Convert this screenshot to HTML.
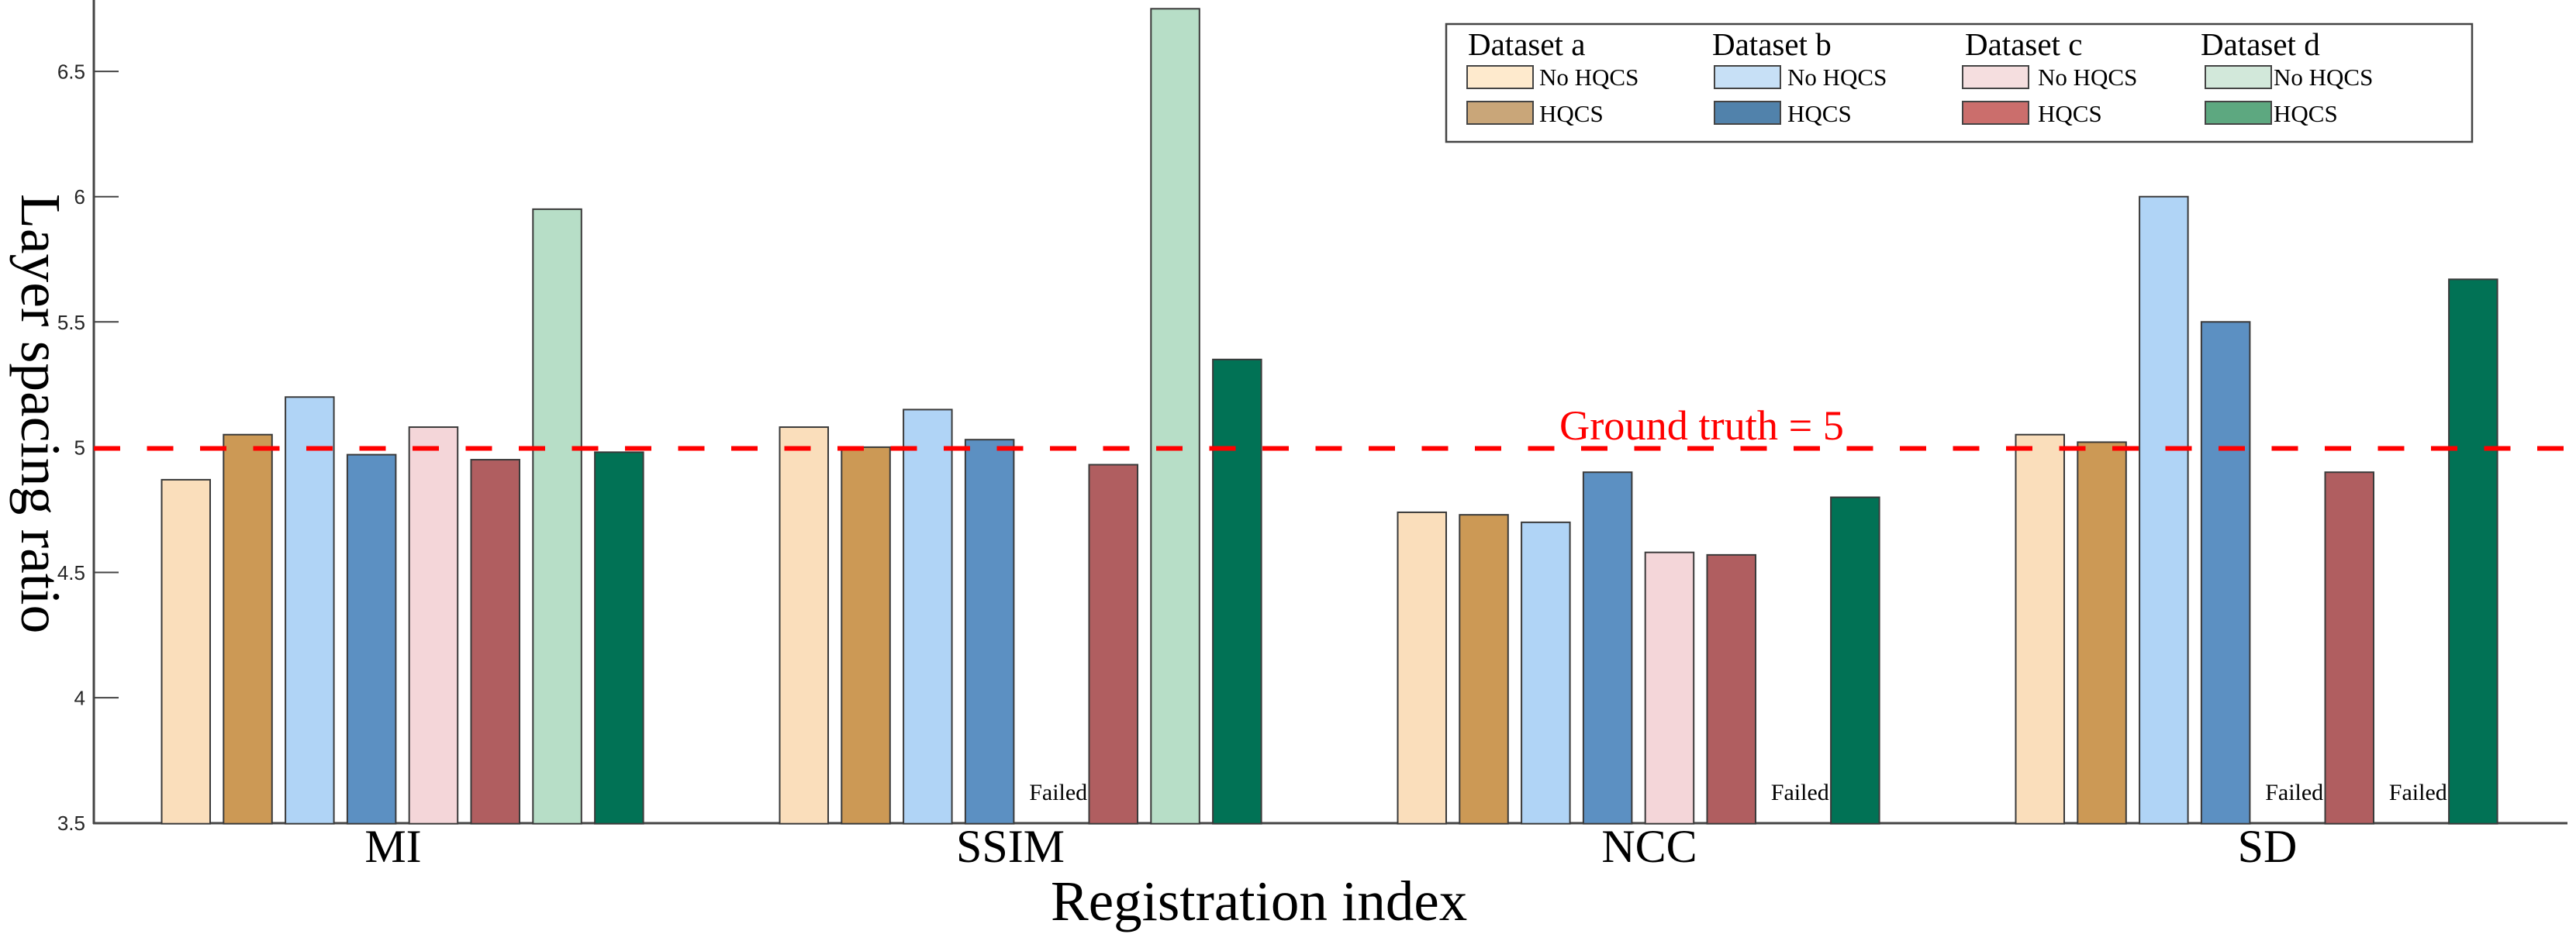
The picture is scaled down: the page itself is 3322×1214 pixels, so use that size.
<!DOCTYPE html>
<html lang="en">
<head>
<meta charset="utf-8">
<title>Layer spacing ratio by registration index</title>
<style>
html,body{margin:0;padding:0;background:#fff;}
svg{display:block;}
text{font-family:"Liberation Serif",serif;}
.tick-label{font-family:"Liberation Sans",sans-serif;font-size:26px;fill:#262626;text-anchor:end;}
</style>
</head>
<body>
<svg id="chart" xmlns="http://www.w3.org/2000/svg" width="3322" height="1214" viewBox="0 0 3322 1214">
  <rect x="0" y="0" width="3322" height="1214" fill="#ffffff"/>
  <g id="y-ticks"></g>
  <g id="bars"></g>
  <g id="failed"></g>
  <line x1="121" y1="0" x2="121" y2="1063" stroke="#444444" stroke-width="3"/>
  <line x1="120" y1="1062" x2="3311" y2="1062" stroke="#444444" stroke-width="3"/>
  <g id="bars-front"></g>
  <line id="truth-line" x1="121" x2="3311" stroke="#ff0000" stroke-width="6" stroke-dasharray="34 34.5"/>
  <text x="2011" y="567" font-size="54.3" fill="#ff0000">Ground truth = 5</text>
  <g id="x-labels"></g>
  <text x="1355" y="1187" font-size="73" fill="#000">Registration index</text>
  <text transform="translate(28 250) rotate(90)" font-size="73.5" fill="#000">Layer spacing ratio</text>
  <g>
    <rect x="1865" y="31" width="1323" height="152" fill="#ffffff" stroke="#444444" stroke-width="2.5"/>
    <text x="1893" y="71" font-size="41">Dataset a</text>
    <text x="2208" y="71" font-size="41">Dataset b</text>
    <text x="2534" y="71" font-size="41">Dataset c</text>
    <text x="2838" y="71" font-size="41">Dataset d</text>
    <rect x="1892" y="85" width="85" height="29" fill="#FEEACD" stroke="#444" stroke-width="2"/>
    <rect x="1892" y="131" width="85" height="29" fill="#C9A679" stroke="#444" stroke-width="2"/>
    <rect x="2211" y="85" width="85" height="29" fill="#C7E0F6" stroke="#444" stroke-width="2"/>
    <rect x="2211" y="131" width="85" height="29" fill="#5182AB" stroke="#444" stroke-width="2"/>
    <rect x="2531" y="85" width="85" height="29" fill="#F5DEDF" stroke="#444" stroke-width="2"/>
    <rect x="2531" y="131" width="85" height="29" fill="#CB6E6C" stroke="#444" stroke-width="2"/>
    <rect x="2844" y="85" width="85" height="29" fill="#D2E8DA" stroke="#444" stroke-width="2"/>
    <rect x="2844" y="131" width="85" height="29" fill="#5DA880" stroke="#444" stroke-width="2"/>
    <text x="1985" y="110" font-size="31">No HQCS</text>
    <text x="1985" y="157" font-size="31">HQCS</text>
    <text x="2305" y="110" font-size="31">No HQCS</text>
    <text x="2305" y="157" font-size="31">HQCS</text>
    <text x="2628" y="110" font-size="31">No HQCS</text>
    <text x="2628" y="157" font-size="31">HQCS</text>
    <text x="2932" y="110" font-size="31">No HQCS</text>
    <text x="2932" y="157" font-size="31">HQCS</text>
  </g>
</svg>
<script>
const categories = ["MI", "SSIM", "NCC", "SD"];
const seriesNames = ["a-no-hqcs", "a-hqcs", "b-no-hqcs", "b-hqcs", "c-no-hqcs", "c-hqcs", "d-no-hqcs", "d-hqcs"];
const seriesColors = ["#FADEBB", "#CC9955", "#B0D4F6", "#5C90C2", "#F4D6D9", "#B05E60", "#B7DEC7", "#017255"];
const miValues = [4.87, 5.05, 5.2, 4.97, 5.08, 4.95, 5.95, 4.98];
const ssimValues = [5.08, 5.0, 5.15, 5.03, null, 4.93, 6.75, 5.35];
const nccValues = [4.74, 4.73, 4.7, 4.9, 4.58, 4.57, null, 4.8];
const sdValues = [5.05, 5.02, 6.0, 5.5, null, 4.9, null, 5.67];
const groupValues = [miValues, ssimValues, nccValues, sdValues];
const tickValues = [3.5, 4, 4.5, 5, 5.5, 6, 6.5];
const tickLabels = ["3.5", "4", "4.5", "5", "5.5", "6", "6.5"];
const groundTruth = 4.995;

const NS = "http://www.w3.org/2000/svg";
const BASE_VALUE = 3.5;
function yScale(v) { return 1061.7 - (v - BASE_VALUE) * 323.2; }
function barLeft(g, s) { return 208 + g * 797 + s * 79.8; }
const BAR_WIDTH = 63.5;

const tickLayer = document.getElementById("y-ticks");
tickValues.forEach(function (v, i) {
  const y = yScale(v);
  const line = document.createElementNS(NS, "line");
  
  
  line.setAttribute("x1", 121);
  line.setAttribute("x2", 153);
  line.setAttribute("y1", y);
  line.setAttribute("y2", y);
  line.setAttribute("stroke", "#444444");
  line.setAttribute("stroke-width", 2);
  tickLayer.appendChild(line);
  const label = document.createElementNS(NS, "text");
  
  
  label.setAttribute("class", "tick-label");
  label.setAttribute("x", 110);
  label.setAttribute("y", y + 9.5);
  label.textContent = tickLabels[i];
  tickLayer.appendChild(label);
});

const barLayer = document.getElementById("bars-front");
const failedLayer = document.getElementById("failed");
groupValues.forEach(function (values, g) {
  values.forEach(function (v, s) {
    const left = barLeft(g, s);
    if (v === null) {
      const failed = document.createElementNS(NS, "text");
      
      
      failed.setAttribute("x", left + 3);
      failed.setAttribute("y", 1032);
      failed.setAttribute("font-size", 30);
      failed.setAttribute("fill", "#000");
      failed.textContent = "Failed";
      failedLayer.appendChild(failed);
      return;
    }
    const top = yScale(v);
    const rect = document.createElementNS(NS, "rect");
    
    
    rect.setAttribute("data-series", seriesNames[s]);
    rect.setAttribute("data-category", categories[g]);
    rect.setAttribute("x", left + 0.5);
    rect.setAttribute("y", top);
    rect.setAttribute("width", BAR_WIDTH - 1);
    rect.setAttribute("height", yScale(BASE_VALUE) - top + 1);
    rect.setAttribute("fill", seriesColors[s]);
    rect.setAttribute("stroke", "#3a3a3a");
    rect.setAttribute("stroke-width", 2);
    barLayer.appendChild(rect);
  });
});

const truthLine = document.getElementById("truth-line");
truthLine.setAttribute("y1", yScale(groundTruth));
truthLine.setAttribute("y2", yScale(groundTruth));

const xLabelLayer = document.getElementById("x-labels");
function addCategoryLabel(index, center) {
  const t = document.createElementNS(NS, "text");
  
  
  t.setAttribute("x", center);
  t.setAttribute("y", 1112);
  t.setAttribute("font-size", 60);
  t.setAttribute("text-anchor", "middle");
  t.setAttribute("fill", "#000");
  t.textContent = categories[index];
  xLabelLayer.appendChild(t);
}
addCategoryLabel(0, 507);
addCategoryLabel(1, 1303);
addCategoryLabel(2, 2127);
addCategoryLabel(3, 2924);
</script>
</body>
</html>
